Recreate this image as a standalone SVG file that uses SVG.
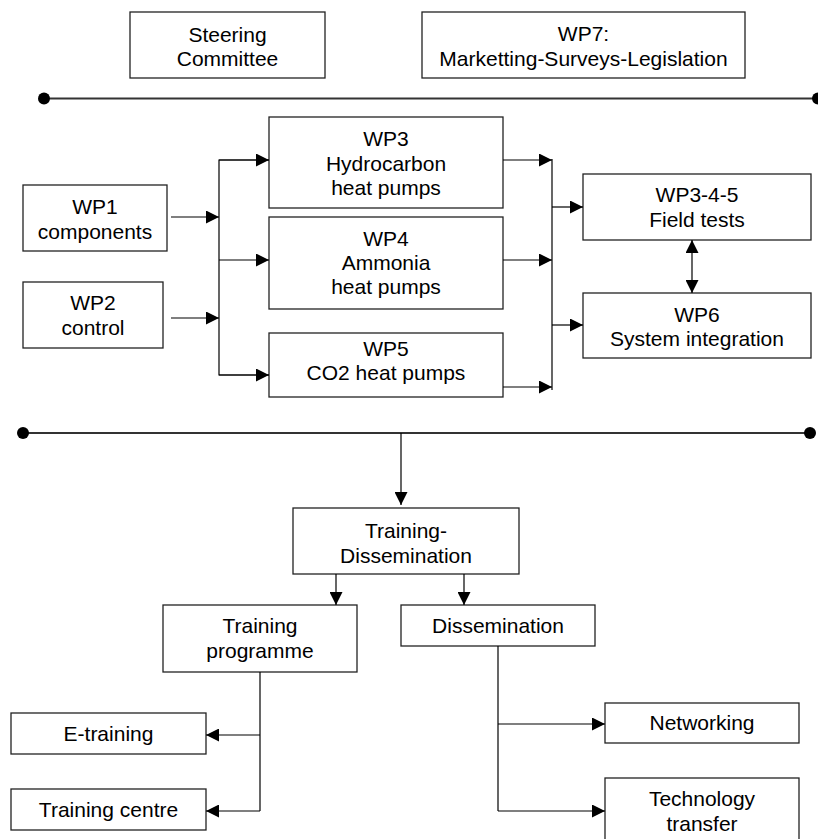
<svg xmlns="http://www.w3.org/2000/svg" width="818" height="839" viewBox="0 0 818 839">
<style>
.box{fill:#fff;stroke:#222;stroke-width:1.3}
.t{font-family:"Liberation Sans",Arial,sans-serif;font-size:21px;fill:#000;text-anchor:middle}
.c{fill:none;stroke:#000;stroke-width:1.2}
.bus{fill:none;stroke:#333;stroke-width:2}
</style>
<defs>
<marker id="ah" markerUnits="userSpaceOnUse" markerWidth="13" markerHeight="13" refX="13" refY="6.5" orient="auto-start-reverse">
<path d="M0,0 L13,6.5 L0,13 Z" fill="#000"/>
</marker>
</defs>
<g id="steering"><rect class="box" x="130" y="12" width="195" height="66"/><text class="t" x="227.5" y="42">Steering</text><text class="t" x="227.5" y="66">Committee</text></g>
<g id="wp7"><rect class="box" x="422" y="12" width="323" height="66"/><text class="t" x="583.5" y="41">WP7:</text><text class="t" x="583.5" y="66">Marketting-Surveys-Legislation</text></g>
<g id="wp1"><rect class="box" x="23" y="185" width="144" height="66"/><text class="t" x="95" y="214">WP1</text><text class="t" x="95" y="239">components</text></g>
<g id="wp2"><rect class="box" x="23" y="282" width="140" height="66"/><text class="t" x="93" y="310">WP2</text><text class="t" x="93" y="335">control</text></g>
<g id="wp3"><rect class="box" x="269" y="117" width="234" height="91"/><text class="t" x="386" y="146">WP3</text><text class="t" x="386" y="171">Hydrocarbon</text><text class="t" x="386" y="195">heat pumps</text></g>
<g id="wp4"><rect class="box" x="269" y="217" width="234" height="92"/><text class="t" x="386" y="246">WP4</text><text class="t" x="386" y="270">Ammonia</text><text class="t" x="386" y="294">heat pumps</text></g>
<g id="wp5"><rect class="box" x="269" y="333" width="234" height="64"/><text class="t" x="386" y="356">WP5</text><text class="t" x="386" y="380">CO2 heat pumps</text></g>
<g id="wp345"><rect class="box" x="583" y="174" width="228" height="66"/><text class="t" x="697" y="202">WP3-4-5</text><text class="t" x="697" y="227">Field tests</text></g>
<g id="wp6"><rect class="box" x="583" y="293" width="228" height="65"/><text class="t" x="697" y="322">WP6</text><text class="t" x="697" y="346">System integration</text></g>
<g id="traindiss"><rect class="box" x="293" y="508" width="226" height="66"/><text class="t" x="406" y="538">Training-</text><text class="t" x="406" y="563">Dissemination</text></g>
<g id="trainprog"><rect class="box" x="163" y="605" width="194" height="67"/><text class="t" x="260" y="633">Training</text><text class="t" x="260" y="658">programme</text></g>
<g id="dissem"><rect class="box" x="401" y="605" width="194" height="41"/><text class="t" x="498" y="633">Dissemination</text></g>
<g id="etraining"><rect class="box" x="11" y="713" width="195" height="41"/><text class="t" x="108.5" y="741">E-training</text></g>
<g id="traincentre"><rect class="box" x="11" y="789" width="195" height="41"/><text class="t" x="108.5" y="817">Training centre</text></g>
<g id="networking"><rect class="box" x="605" y="703" width="194" height="40"/><text class="t" x="702" y="730">Networking</text></g>
<g id="techtransfer"><rect class="box" x="605" y="778" width="194" height="65"/><text class="t" x="702" y="806">Technology</text><text class="t" x="702" y="831">transfer</text></g>
<g id="connectors">
<line class="bus" x1="44" y1="98.5" x2="817" y2="98.5"/>
<circle cx="44" cy="98.5" r="6" fill="#000"/>
<circle cx="818" cy="98.5" r="6" fill="#000"/>
<line class="bus" x1="23" y1="433" x2="810" y2="433"/>
<circle cx="23" cy="433" r="6" fill="#000"/>
<circle cx="810" cy="433" r="6" fill="#000"/>
<line class="c" x1="171" y1="217" x2="219" y2="217" marker-end="url(#ah)"/>
<line class="c" x1="171" y1="318" x2="219" y2="318" marker-end="url(#ah)"/>
<polyline class="c" points="269,160 219,160 219,375 269,375"/>
<line class="c" x1="219" y1="160" x2="269" y2="160" marker-end="url(#ah)"/>
<line class="c" x1="219" y1="260" x2="269" y2="260" marker-end="url(#ah)"/>
<line class="c" x1="219" y1="375" x2="269" y2="375" marker-end="url(#ah)"/>
<line class="c" x1="503" y1="160" x2="552" y2="160" marker-end="url(#ah)"/>
<line class="c" x1="503" y1="260" x2="552" y2="260" marker-end="url(#ah)"/>
<line class="c" x1="503" y1="387" x2="552" y2="387" marker-end="url(#ah)"/>
<line class="c" x1="552" y1="159" x2="552" y2="390"/>
<line class="c" x1="552" y1="207" x2="583" y2="207" marker-end="url(#ah)"/>
<line class="c" x1="552" y1="325" x2="583" y2="325" marker-end="url(#ah)"/>
<line class="c" x1="692" y1="240" x2="692" y2="293" marker-start="url(#ah)" marker-end="url(#ah)"/>
<line class="c" x1="401" y1="433" x2="401" y2="505" marker-end="url(#ah)"/>
<line class="c" x1="336" y1="574" x2="336" y2="605" marker-end="url(#ah)"/>
<line class="c" x1="464" y1="574" x2="464" y2="605" marker-end="url(#ah)"/>
<line class="c" x1="260" y1="672" x2="260" y2="811"/>
<line class="c" x1="260" y1="735" x2="206" y2="735" marker-end="url(#ah)"/>
<line class="c" x1="260" y1="811" x2="206" y2="811" marker-end="url(#ah)"/>
<line class="c" x1="498" y1="646" x2="498" y2="811"/>
<line class="c" x1="498" y1="724" x2="605" y2="724" marker-end="url(#ah)"/>
<line class="c" x1="498" y1="811" x2="605" y2="811" marker-end="url(#ah)"/>
</g>
</svg>
